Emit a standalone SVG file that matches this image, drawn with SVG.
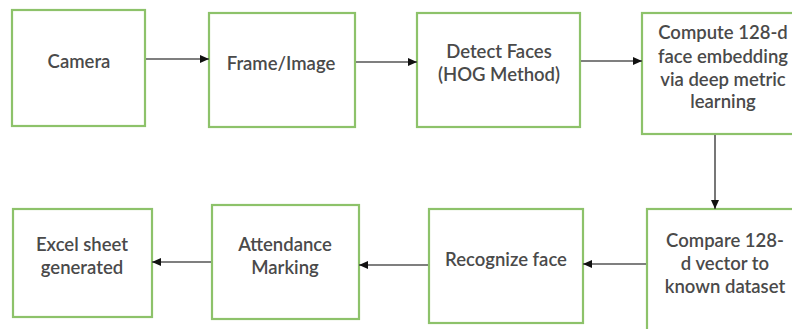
<svg xmlns="http://www.w3.org/2000/svg" width="792" height="329" viewBox="0 0 792 329">
<defs>
<marker id="ah" markerWidth="10" markerHeight="10" refX="9" refY="5" orient="auto" markerUnits="userSpaceOnUse">
<path d="M0,1 L9,5 L0,9 Z" fill="#111"/>
</marker>
<style>
.box{fill:#fff;stroke:#8dc26a;stroke-width:2.2}
.t{font-family:Lato,"Liberation Sans",sans-serif;font-size:18.5px;fill:#4a4a4a;text-anchor:middle;font-weight:600}
.c{stroke:#555;stroke-width:1.6;fill:none;marker-end:url(#ah)}
</style>
</defs>
<rect width="792" height="329" fill="#fff"/>
<g id="camera"><rect class="box" x="12" y="10" width="133" height="116"/><text class="t" x="79" y="68">Camera</text></g>
<g id="frame"><rect class="box" x="209" y="13" width="146" height="114"/><text class="t" x="281" y="70">Frame/Image</text></g>
<g id="detect"><rect class="box" x="417" y="13" width="163" height="114"/><text class="t" x="499" y="58">Detect Faces</text><text class="t" x="499" y="81">(HOG Method)</text></g>
<g id="compute"><rect class="box" x="642" y="13" width="160" height="121"/><text class="t" x="723" y="39">Compute 128-d</text><text class="t" x="723" y="63">face embedding</text><text class="t" x="723" y="86">via deep metric</text><text class="t" x="723" y="108">learning</text></g>
<g id="compare"><rect class="box" x="647" y="209" width="160" height="130"/><text class="t" x="725" y="247">Compare 128-</text><text class="t" x="725" y="270">d vector to</text><text class="t" x="725" y="293">known dataset</text></g>
<g id="recognize"><rect class="box" x="429" y="209" width="154" height="114"/><text class="t" x="506" y="266">Recognize face</text></g>
<g id="attendance"><rect class="box" x="212" y="205" width="147" height="114"/><text class="t" x="285" y="251">Attendance</text><text class="t" x="285" y="274">Marking</text></g>
<g id="excel"><rect class="box" x="13" y="209" width="139" height="108"/><text class="t" x="82" y="251">Excel sheet</text><text class="t" x="82" y="274">generated</text></g>
<g id="connectors">
<path class="c" d="M146,59 L209,59"/>
<path class="c" d="M356,62 L417,62"/>
<path class="c" d="M581,61 L642,61"/>
<path class="c" d="M715,135 L715,209"/>
<path class="c" d="M646,264 L583,264"/>
<path class="c" d="M428,265 L359,265"/>
<path class="c" d="M211,262 L152,262"/>
</g>
</svg>
